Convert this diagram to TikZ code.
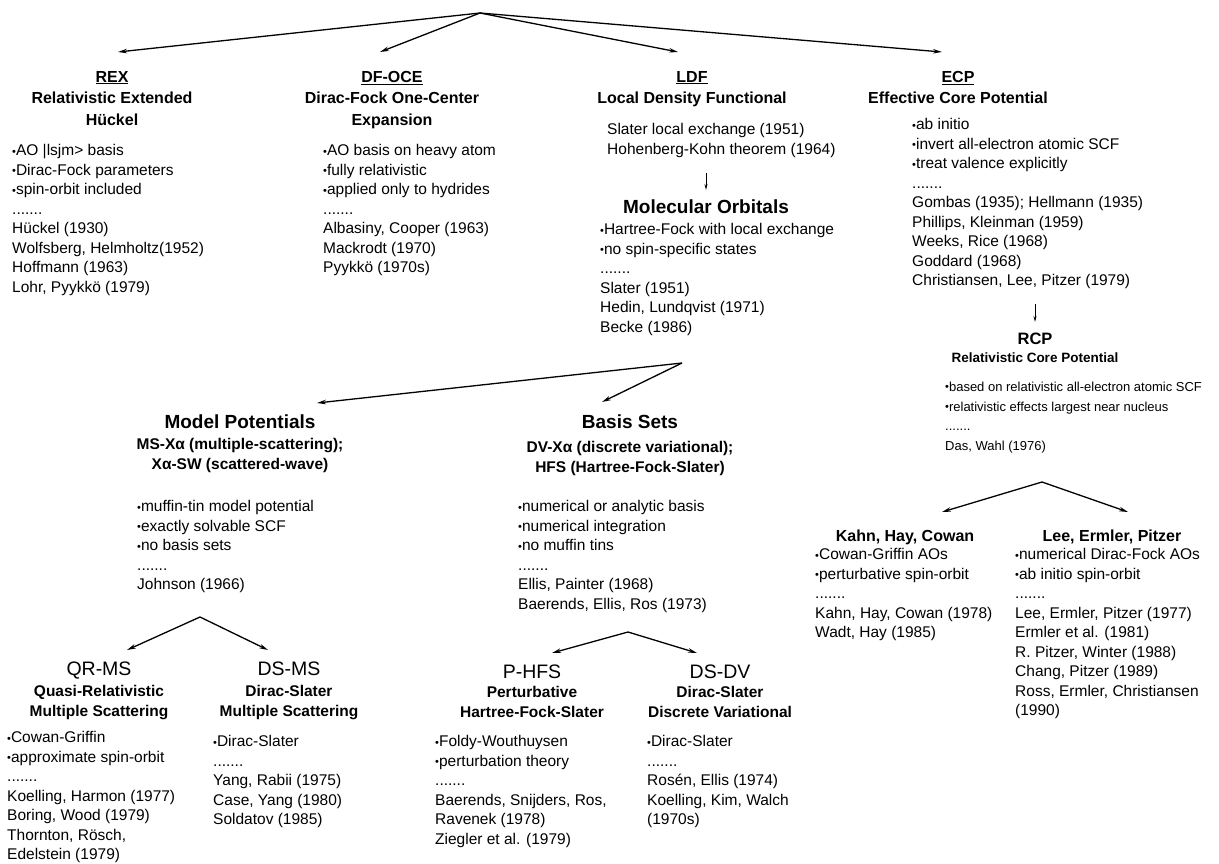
\documentclass[tikz,border=0pt]{standalone}
\usepackage{fontspec}
\setmainfont{Liberation Sans}
\usetikzlibrary{arrows.meta}
\newcommand{\bulx}{{\fontsize{11}{11}\selectfont\raisebox{0.12ex}{•}}}
\begin{document}
\begin{tikzpicture}[x=1pt,y=-1pt,
  body/.style={font=\fontsize{15.5}{19.5}\selectfont, align=left, anchor=north west, inner sep=0pt},
  smbody/.style={font=\fontsize{13}{19.5}\selectfont, align=left, anchor=north west, inner sep=0pt},
  ttl/.style={font=\bfseries\fontsize{16}{21.5}\selectfont, align=center, anchor=north, inner sep=0pt},
  big/.style={font=\bfseries\fontsize{19}{22}\selectfont, align=center, anchor=north, inner sep=0pt},
  sub/.style={font=\bfseries\fontsize{15.5}{20}\selectfont, align=center, anchor=north, inner sep=0pt},
  hd/.style={font=\bfseries\fontsize{16}{20}\selectfont, align=center, anchor=north, inner sep=0pt},
  abbr/.style={font=\fontsize{19.5}{22}\selectfont, align=center, anchor=north, inner sep=0pt},
  arr/.style={-{Stealth[length=9pt,width=4.5pt]}, line width=1.3pt},
  sarr/.style={-{Stealth[length=6pt,width=3pt]}, line width=1pt}]
\useasboundingbox (0,0) rectangle (1219,863);

% ---------- top level
\coordinate (top) at (480,13);
\coordinate (rexin) at (118,52);
\coordinate (dfin) at (380,52);
\coordinate (ldfin) at (678,52);
\coordinate (ecpin) at (942,52);
\draw[arr] (top) -- (rexin);
\draw[arr] (top) -- (dfin);
\draw[arr] (top) -- (ldfin);
\draw[arr] (top) -- (ecpin);

\node[ttl] (rex) at (112,71) {\underline{REX}\\Relativistic Extended\\Hückel};
\node[ttl] (dfoce) at (392,71) {\underline{DF-OCE}\\Dirac-Fock One-Center\\Expansion};
\node[ttl] (ldf) at (692,71) {\underline{LDF}\\Local Density Functional};
\node[ttl] (ecp) at (958,71) {\underline{ECP}\\Effective Core Potential};

\node[body] (rexb) at (12,144.5) {\bulx AO |lsjm> basis\\\bulx Dirac-Fock parameters\\\bulx spin-orbit included\\.......\\Hückel (1930)\\Wolfsberg, Helmholtz(1952)\\Hoffmann (1963)\\Lohr, Pyykkö (1979)};
\node[body] (dfb) at (323,144.5) {\bulx AO basis on heavy atom\\\bulx fully relativistic\\\bulx applied only to hydrides\\.......\\Albasiny, Cooper (1963)\\Mackrodt (1970)\\Pyykkö (1970s)};

% ---------- LDF column
\node[body] (ldfu) at (607,123.5) {Slater local exchange (1951)\\Hohenberg-Kohn theorem (1964)};
\node[big] (mo) at (706,200) {Molecular Orbitals};
\draw[sarr, shorten <=15pt, shorten >=10pt] (ldfu.south -| mo.north) -- (mo.north);
\node[body] (mob) at (600,223.5) {\bulx Hartree-Fock with local exchange\\\bulx no spin-specific states\\.......\\Slater (1951)\\Hedin, Lundqvist (1971)\\Becke (1986)};

% ---------- ECP column
\node[body] (ecpb) at (912,118.5) {\bulx ab initio\\\bulx invert all-electron atomic SCF\\\bulx treat valence explicitly\\.......\\Gombas (1935); Hellmann (1935)\\Phillips, Kleinman (1959)\\Weeks, Rice (1968)\\Goddard (1968)\\Christiansen, Lee, Pitzer (1979)};
\node[hd, font=\bfseries\fontsize{16.5}{18}\selectfont] (rcp) at (1035,333) {RCP\\{\fontsize{13.5}{16}\selectfont Relativistic Core Potential}};
\draw[sarr, shorten <=15pt, shorten >=11pt] (ecpb.south -| rcp.north) -- (rcp.north);
\node[smbody] (rcpb) at (945,382) {\bulx based on relativistic all-electron atomic SCF\\\bulx relativistic effects largest near nucleus\\.......\\Das, Wahl (1976)};

\coordinate (rfork) at (1042,482);
\coordinate (khin) at (942,512);
\coordinate (lein) at (1128,512);
\draw[arr] (rfork) -- (khin);
\draw[arr] (rfork) -- (lein);

\node[hd] (khc) at (905,530) {Kahn, Hay, Cowan};
\node[body] (khcb) at (815,548.5) {\bulx Cowan-Griffin AOs\\\bulx perturbative spin-orbit\\.......\\Kahn, Hay, Cowan (1978)\\Wadt, Hay (1985)};
\node[hd] (lep) at (1112,530) {Lee, Ermler, Pitzer};
\node[body] (lepb) at (1015,548.5) {\bulx numerical Dirac-Fock AOs\\\bulx ab initio spin-orbit\\.......\\Lee, Ermler, Pitzer (1977)\\Ermler et al. (1981)\\R. Pitzer, Winter (1988)\\Chang, Pitzer (1989)\\Ross, Ermler, Christiansen\\(1990)};

% ---------- LDF fork
\coordinate (lfork) at (682,363);
\coordinate (mpin) at (317,403);
\coordinate (bsin) at (602,402);
\draw[arr] (lfork) -- (mpin);
\draw[arr] (lfork) -- (bsin);

\node[big] (mp) at (240,415) {Model Potentials};
\node[sub] (mps) at (240,438) {MS-Xα (multiple-scattering);\\Xα-SW (scattered-wave)};
\node[body] (mpb) at (137,500.5) {\bulx muffin-tin model potential\\\bulx exactly solvable SCF\\\bulx no basis sets\\.......\\Johnson (1966)};

\node[big] (bs) at (630,415) {Basis Sets};
\node[sub] (bss) at (630,441) {DV-Xα (discrete variational);\\HFS (Hartree-Fock-Slater)};
\node[body] (bsb) at (518,500.5) {\bulx numerical or analytic basis\\\bulx numerical integration\\\bulx no muffin tins\\.......\\Ellis, Painter (1968)\\Baerends, Ellis, Ros (1973)};

% ---------- Model potentials fork
\coordinate (mfork) at (200,617);
\coordinate (qrin) at (127,650);
\coordinate (dsmin) at (268,650);
\draw[arr] (mfork) -- (qrin);
\draw[arr] (mfork) -- (dsmin);

\node[abbr] (qr) at (99,662) {QR-MS};
\node[sub] (qrs) at (99,685) {Quasi-Relativistic\\Multiple Scattering};
\node[body] (qrb) at (7,731.5) {\bulx Cowan-Griffin\\\bulx approximate spin-orbit\\.......\\Koelling, Harmon (1977)\\Boring, Wood (1979)\\Thornton, Rösch,\\Edelstein (1979)};

\node[abbr] (dsm) at (289,662) {DS-MS};
\node[sub] (dsms) at (289,685) {Dirac-Slater\\Multiple Scattering};
\node[body] (dsmb) at (213,735.5) {\bulx Dirac-Slater\\.......\\Yang, Rabii (1975)\\Case, Yang (1980)\\Soldatov (1985)};

% ---------- Basis sets fork
\coordinate (bfork) at (628,632);
\coordinate (phin) at (552,653);
\coordinate (dsdin) at (697,653);
\draw[arr] (bfork) -- (phin);
\draw[arr] (bfork) -- (dsdin);

\node[abbr] (ph) at (532,665) {P-HFS};
\node[sub] (phs) at (532,686) {Perturbative\\Hartree-Fock-Slater};
\node[body] (phb) at (435,735.5) {\bulx Foldy-Wouthuysen\\\bulx perturbation theory\\.......\\Baerends, Snijders, Ros,\\Ravenek (1978)\\Ziegler et al. (1979)};

\node[abbr] (dsd) at (720,665) {DS-DV};
\node[sub] (dsds) at (720,686) {Dirac-Slater\\Discrete Variational};
\node[body] (dsdb) at (647,735.5) {\bulx Dirac-Slater\\.......\\Rosén, Ellis (1974)\\Koelling, Kim, Walch\\(1970s)};
\end{tikzpicture}
\end{document}
